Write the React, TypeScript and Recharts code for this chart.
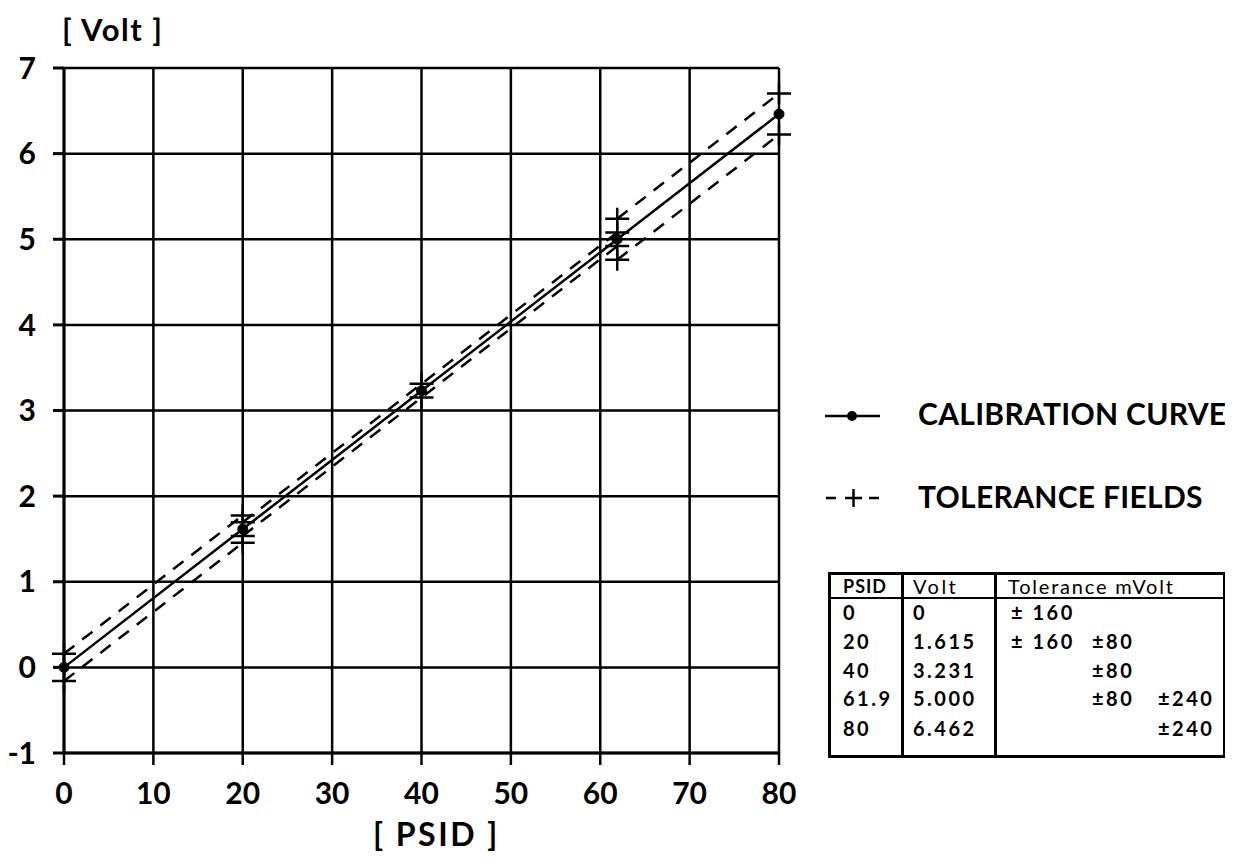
import React from "react";
import {
  ComposedChart,
  Line,
  Scatter,
  XAxis,
  YAxis,
  CartesianGrid,
} from "recharts";

// calibration points
const psid = [0, 20, 40, 61.9, 80];
const volt = [0, 1.615, 3.231, 5.0, 6.462];

// tolerance fields (mV) and the PSID span each one covers
const bandMv = [160, 80, 240];
const bandFrom = [0, 20, 61.9];
const bandTo = [20, 61.9, 80];

const xTicks = [0, 10, 20, 30, 40, 50, 60, 70, 80];
const yTicks = [-1, 0, 1, 2, 3, 4, 5, 6, 7];

const FONT = "Lato, 'DejaVu Sans', sans-serif";

const calData = psid.map((x, i) => ({ x, y: volt[i] }));
const voltAt = (x: number) => volt[psid.indexOf(x)];

const bandLines = bandMv.flatMap((mv, b) => {
  const from = bandFrom[b];
  const to = bandTo[b];
  return [1, -1].map((s) => [
    { x: from, y: voltAt(from) + (s * mv) / 1000 },
    { x: to, y: voltAt(to) + (s * mv) / 1000 },
  ]);
});

const markers = psid.flatMap((x, i) =>
  bandMv.flatMap((mv, b) =>
    x >= bandFrom[b] && x <= bandTo[b]
      ? [
          { x, y: volt[i] + mv / 1000 },
          { x, y: volt[i] - mv / 1000 },
        ]
      : []
  )
);

const Plus = (props: any) => {
  const { cx, cy } = props;
  if (cx == null || cy == null) return null;
  return (
    <path
      d={`M${cx - 12},${cy} H${cx + 12} M${cx},${cy - 11} V${cy + 11}`}
      stroke="#000"
      strokeWidth={2.5}
      fill="none"
    />
  );
};

const tickStyle = { fontSize: 30, fontWeight: 700, fill: "#000", fontFamily: FONT };

function Legend() {
  return (
    <svg
      width={1217}
      height={845}
      style={{ position: "absolute", left: 0, top: 0, pointerEvents: "none" }}
    >
      <g fontFamily={FONT} fontWeight={700} fill="#000">
        <text x={54} y={33} fontSize={31} letterSpacing={1.5}>[ Volt ]</text>
        <text x={365} y={838} fontSize={32} letterSpacing={2.5}>[ PSID ]</text>
        <line x1={817} y1={408} x2={872} y2={408} stroke="#000" strokeWidth={2.5} />
        <circle cx={844} cy={408} r={5} fill="#000" />
        <text x={910} y={417} fontSize={30} letterSpacing={0.3}>CALIBRATION CURVE</text>
        <path
          d="M818,490 H828 M837,490 H854 M845.5,481 V499 M861,490 H871"
          stroke="#000"
          strokeWidth={2.5}
        />
        <text x={910} y={500} fontSize={30} letterSpacing={0.3}>TOLERANCE FIELDS</text>
      </g>
    </svg>
  );
}

function ToleranceTable() {
  const rowTop = [37, 66, 95, 123, 153];
  const slotLeft = [180, 261, 327];
  const cell: React.CSSProperties = {
    position: "absolute",
    transform: "translateY(-50%)",
    whiteSpace: "nowrap",
    lineHeight: 1,
  };
  return (
    <div
      style={{
        position: "absolute",
        left: 820,
        top: 564,
        width: 398,
        height: 186,
        boxSizing: "border-box",
        border: "3px solid #000",
        fontFamily: FONT,
        fontSize: 20,
        letterSpacing: 2.5,
        color: "#000",
      }}
    >
      <div style={{ position: "absolute", left: 70, top: 0, width: 3, height: "100%", background: "#000" }} />
      <div style={{ position: "absolute", left: 163, top: 0, width: 3, height: "100%", background: "#000" }} />
      <div style={{ position: "absolute", left: 0, top: 22, width: "100%", height: 2, background: "#000" }} />
      <span style={{ ...cell, left: 12, top: 11, fontWeight: 700, fontSize: 18, letterSpacing: 1 }}>PSID</span>
      <span style={{ ...cell, left: 82, top: 11 }}>Volt</span>
      <span style={{ ...cell, left: 177, top: 11, letterSpacing: 1.8 }}>Tolerance mVolt</span>
      {psid.map((x, i) => (
        <React.Fragment key={x}>
          <span style={{ ...cell, left: 12, top: rowTop[i], fontWeight: 700 }}>{String(x)}</span>
          <span style={{ ...cell, left: 82, top: rowTop[i], fontWeight: 700 }}>
            {volt[i] === 0 ? "0" : volt[i].toFixed(3)}
          </span>
          {bandMv.map((mv, b) =>
            x >= bandFrom[b] && x <= bandTo[b] ? (
              <span
                key={mv}
                style={{ ...cell, left: slotLeft[b], top: rowTop[i], fontWeight: 700 }}
              >
                {b === 0 ? `± ${mv}` : `±${mv}`}
              </span>
            ) : null
          )}
        </React.Fragment>
      ))}
    </div>
  );
}

export default function App() {
  return (
    <div style={{ position: "relative", width: 1217, height: 845, background: "#fff" }}>
      <ComposedChart
        width={1217}
        height={845}
        margin={{ top: 60, right: 446, bottom: 40, left: 0 }}
      >
        <CartesianGrid stroke="#000" strokeWidth={2.5} />
        <XAxis
          type="number"
          dataKey="x"
          domain={[0, 80]}
          ticks={xTicks}
          height={60}
          axisLine={{ stroke: "#000", strokeWidth: 3 }}
          tickLine={{ stroke: "#000", strokeWidth: 2.5 }}
          tickSize={12}
          tickMargin={18}
          tick={tickStyle}
        />
        <YAxis
          type="number"
          dataKey="y"
          domain={[-1, 7]}
          ticks={yTicks}
          width={56}
          axisLine={{ stroke: "#000", strokeWidth: 3 }}
          tickLine={{ stroke: "#000", strokeWidth: 3 }}
          tickSize={11}
          tickMargin={17}
          tick={tickStyle}
        />
        {bandLines.map((d, i) => (
          <Line
            key={`tol-${i}`}
            data={d}
            dataKey="y"
            type="linear"
            stroke="#000"
            strokeWidth={2.5}
            strokeDasharray="13 10"
            dot={false}
            activeDot={false}
            isAnimationActive={false}
          />
        ))}
        <Line
          data={calData}
          dataKey="y"
          type="linear"
          stroke="#000"
          strokeWidth={2.5}
          dot={{ r: 5, fill: "#000", stroke: "#000", strokeWidth: 1 }}
          activeDot={false}
          isAnimationActive={false}
        />
        <Scatter data={markers} dataKey="y" shape={Plus} isAnimationActive={false} />
      </ComposedChart>
      <Legend />
      <ToleranceTable />
    </div>
  );
}
